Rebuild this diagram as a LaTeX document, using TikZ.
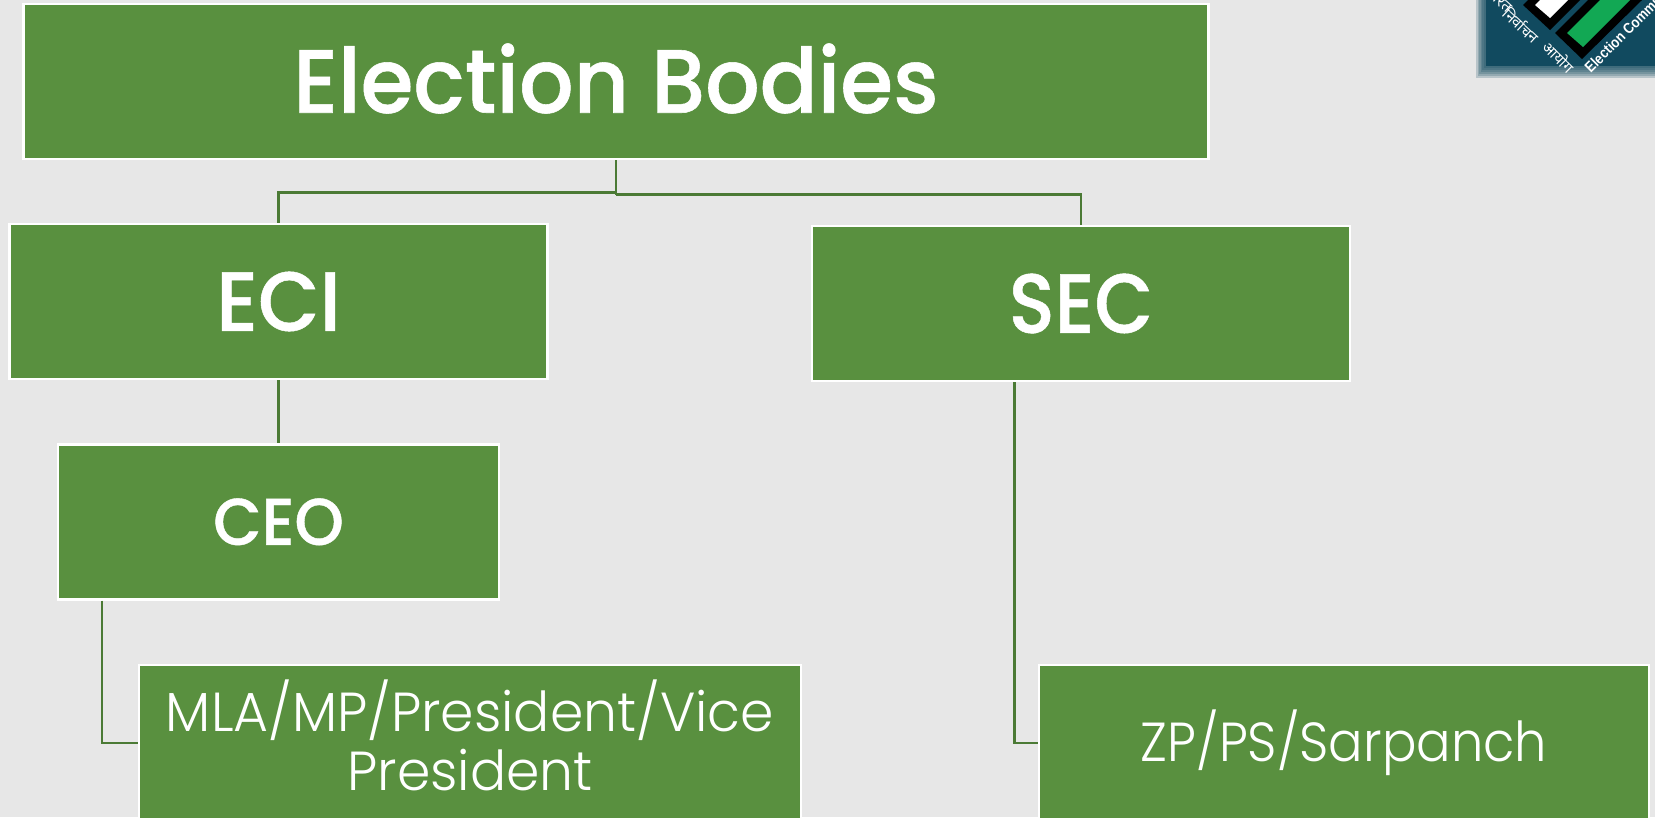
\documentclass[tikz,border=0pt]{standalone}
\usepackage{fontspec}
\setmainfont{Poppins}
\newfontfamily\lightf[FakeStretch=0.975]{Poppins Light}
\newfontfamily\lightnarrow[FakeStretch=0.93]{Poppins Light}
\newfontfamily\headf[FakeStretch=0.95,FakeBold=0.6]{Poppins Medium}
\newfontfamily\headnarrow[FakeStretch=0.905,FakeBold=0.6]{Poppins Medium}
\newfontfamily\hindi[Script=Devanagari]{Noto Sans}
\newfontfamily\logof[FakeStretch=0.86]{Liberation Sans}
\definecolor{bgc}{HTML}{E7E7E7}
\definecolor{boxg}{HTML}{59903F}
\definecolor{lineg}{HTML}{4B7A35}
\definecolor{teal}{HTML}{114A5F}
\definecolor{votegreen}{HTML}{12A854}
\usetikzlibrary{calc}
\tikzset{
  orgbox/.style={draw=white,line width=2.6pt,fill=boxg,text=white,align=center,inner sep=0pt,anchor=north west},
  boxtext/.style={text=white,align=center,inner sep=0pt},
  link/.style={draw=lineg,line width=2.7pt},
  logotext/.style={text=white,inner sep=0pt},
}
\begin{document}
\begin{tikzpicture}[x=1pt,y=-1pt]
\useasboundingbox (0,0) rectangle (1655,817);
\fill[bgc] (0,0) rectangle (1655,817);
% logo
\begin{scope}
\clip (0,0) rectangle (1655,817);
\foreach \i in {0,...,5}{
  \fill[teal,opacity=0.22] (1476+\i*1.6,-10) rectangle (1670,78-\i*2);
}
\fill[teal] (1486,-10) rectangle (1670,66);
\fill[black] (1528,0) -- (1523,5) -- (1550,30) -- (1580,0) -- cycle;
\fill[white] (1540,0) -- (1535,5) -- (1550,18) -- (1568,0) -- cycle;
\fill[black] (1588,0) -- (1555,33) -- (1582,59) -- (1642,0) -- cycle;
\fill[votegreen] (1600,0) -- (1567,33) -- (1583,47) -- (1630,0) -- cycle;
\node[logotext,rotate=-43,font=\hindi\bfseries\fontsize{15}{15}\selectfont] (hindia) at (1499,0) {भारत};
\node[logotext,rotate=-43,font=\hindi\bfseries\fontsize{15}{15}\selectfont] (hindib) at (1522,25) {निर्वाचन};
\node[logotext,rotate=-45,font=\hindi\bfseries\fontsize{15}{15}\selectfont] (hindic) at (1559,57) {आयोग};
\node[logotext,rotate=45,font=\logof\bfseries\fontsize{15}{15}\selectfont,anchor=west] (englabel) at (1587,70) {Election Commission};
\end{scope}
% boxes
\node[orgbox,minimum width=1185pt,minimum height=155pt] (top) at (22.2,2.7) {};
\node[boxtext,font=\headf\fontsize{90}{90}\selectfont] (toptext) at ($(top.center)+(0,-3)$) {Election Bodies};
\node[orgbox,minimum width=538pt,minimum height=155pt,font=\headf\fontsize{84}{84}\selectfont] (eci) at (8.2,222.7) {ECI};
\node[orgbox,minimum width=538pt,minimum height=155pt,font=\headnarrow\fontsize{84}{84}\selectfont] (sec) at (810.7,224.7) {SEC};
\node[orgbox,minimum width=441pt,minimum height=155pt,font=\headf\fontsize{66}{66}\selectfont] (ceo) at (56.7,443) {CEO};
\node[orgbox,minimum width=662pt,minimum height=156pt] (mla) at (137.7,663.7) {};
\node[boxtext,font=\lightf\fontsize{55}{59}\selectfont] (mlatext) at ($(mla.center)+(0,-8)$) {MLA/MP/President/Vice\\President};
\node[orgbox,minimum width=610pt,minimum height=156pt,font=\lightnarrow\fontsize{55}{59}\selectfont] (zp) at (1037.7,663.7) {ZP/PS/Sarpanch};
% connectors
\coordinate (ja) at ($(top.south)+(0,32.5)$);
\coordinate (jb) at ($(top.south)+(0,34.5)$);
\draw[link] (top.south) -- (jb);
\draw[link] (ja) -| (eci.north);
\draw[link] (jb) -| (sec.north);
\draw[link] (eci.south) -- (ceo.north);
\coordinate (ceoout) at ($(ceo.south west)+(45.3,0)$);
\draw[link] (ceoout) |- (mla.west);
\coordinate (secout) at ($(sec.south west)+(203.8,0)$);
\draw[link] (secout) |- (zp.west);
\end{tikzpicture}
\end{document}
